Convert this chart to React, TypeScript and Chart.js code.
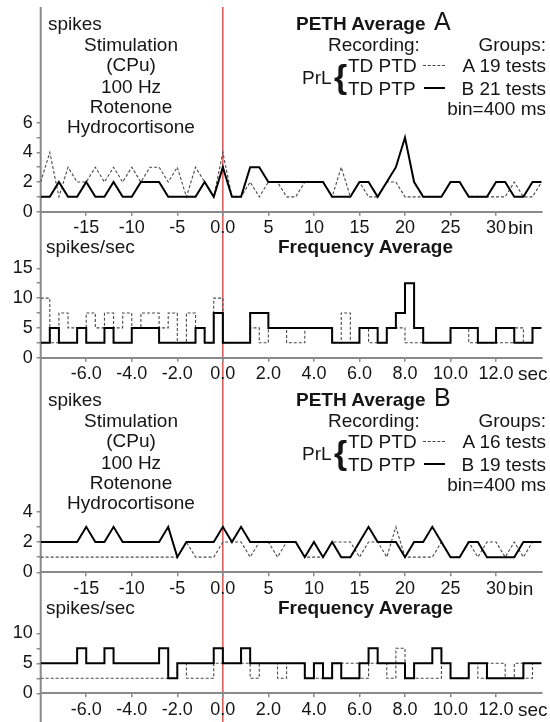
import React, { useEffect, useRef } from 'react';
import { Chart, registerables } from 'chart.js';

Chart.register(...registerables);

// ---------- data ----------
const BIN_SEC = 0.4;

// PETH points (bin index)
const PETH_BINS = [
  -20, -19, -18, -17, -16, -15, -14, -13, -12, -11,
  -10, -9, -8, -7, -6, -5, -4, -3, -2, -1,
  0, 1, 2, 3, 4, 5, 6, 7, 8, 9,
  10, 11, 12, 13, 14, 15, 16, 17, 18, 19,
  20, 21, 22, 23, 24, 25, 26, 27, 28, 29,
  30, 31, 32, 33, 34, 35,
];

// frequency bins (left edge, bin index)
const FREQ_BINS = [
  -20, -19, -18, -17, -16, -15, -14, -13, -12, -11,
  -10, -9, -8, -7, -6, -5, -4, -3, -2, -1,
  0, 1, 2, 3, 4, 5, 6, 7, 8, 9,
  10, 11, 12, 13, 14, 15, 16, 17, 18, 19,
  20, 21, 22, 23, 24, 25, 26, 27, 28, 29,
  30, 31, 32, 33, 34,
];

// Figure A
const A_PETH_B = [
  1, 1, 2, 1, 1, 2, 1, 1, 2, 1,
  1, 2, 2, 2, 1, 1, 1, 1, 2, 1,
  3, 1, 1, 3, 3, 2, 2, 2, 2, 2,
  2, 2, 1, 1, 1, 2, 2, 1, 2, 3,
  5, 2, 1, 1, 1, 2, 2, 1, 1, 1,
  2, 2, 1, 1, 2, 2,
];
const A_PETH_A = [
  2, 4, 1, 3, 2, 2, 3, 2, 3, 2,
  3, 2, 3, 3, 2, 3, 1, 3, 2, 1,
  4, 1, 1, 2, 1, 2, 2, 1, 1, 2,
  2, 2, 1, 3, 1, 2, 1, 1, 2, 2,
  1, 1, 1, 1, 1, 2, 2, 1, 1, 1,
  1, 1, 2, 1, 1, 2,
];
const A_FREQ_B = [
  2.5, 5, 2.5, 2.5, 5, 2.5, 2.5, 5, 2.5, 2.5,
  5, 5, 5, 2.5, 2.5, 2.5, 2.5, 5, 2.5, 7.5,
  2.5, 2.5, 2.5, 7.5, 7.5, 5, 5, 5, 5, 5,
  5, 5, 2.5, 2.5, 2.5, 5, 5, 2.5, 5, 7.5,
  12.5, 5, 2.5, 2.5, 2.5, 5, 5, 5, 2.5, 2.5,
  5, 5, 2.5, 2.5, 5,
];
const A_FREQ_A = [
  10, 2.5, 7.5, 5, 5, 7.5, 5, 7.5, 5, 7.5,
  5, 7.5, 7.5, 5, 7.5, 2.5, 7.5, 5, 2.5, 10,
  2.5, 2.5, 2.5, 5, 2.5, 5, 5, 2.5, 2.5, 5,
  5, 5, 2.5, 7.5, 2.5, 5, 2.5, 2.5, 5, 5,
  2.5, 2.5, 2.5, 2.5, 2.5, 5, 5, 2.5, 2.5, 2.5,
  2.5, 2.5, 5, 2.5, 5,
];

// Figure B
const B_PETH_B = [
  2, 2, 2, 2, 2, 3, 2, 2, 3, 2,
  2, 2, 2, 2, 3, 1, 2, 2, 2, 2,
  3, 2, 3, 2, 2, 2, 2, 2, 2, 1,
  2, 1, 2, 1, 1, 2, 3, 2, 2, 2,
  1, 2, 2, 3, 2, 1, 1, 2, 2, 1,
  1, 1, 1, 2, 2, 2,
];
const B_PETH_A = [
  1, 1, 1, 1, 1, 1, 1, 1, 1, 1,
  1, 1, 1, 1, 1, 1, 2, 1, 1, 1,
  2, 2, 2, 1, 2, 2, 1, 2, 2, 1,
  1, 1, 2, 2, 2, 1, 2, 2, 1, 3,
  1, 1, 1, 1, 2, 1, 1, 2, 1, 2,
  2, 1, 2, 1, 2, 2,
];
const B_FREQ_B = [
  5, 5, 5, 5, 7.5, 5, 5, 7.5, 5, 5,
  5, 5, 5, 7.5, 2.5, 5, 5, 5, 5, 7.5,
  5, 5, 7.5, 5, 5, 5, 5, 5, 5, 2.5,
  5, 2.5, 5, 2.5, 2.5, 5, 7.5, 5, 5, 5,
  2.5, 5, 5, 7.5, 5, 2.5, 2.5, 5, 5, 2.5,
  2.5, 2.5, 2.5, 5, 5,
];
const B_FREQ_A = [
  2.5, 2.5, 2.5, 2.5, 2.5, 2.5, 2.5, 2.5, 2.5, 2.5,
  2.5, 2.5, 2.5, 2.5, 2.5, 5, 2.5, 2.5, 2.5, 5,
  5, 5, 5, 2.5, 5, 5, 2.5, 5, 5, 2.5,
  2.5, 2.5, 5, 5, 5, 2.5, 5, 5, 2.5, 7.5,
  2.5, 2.5, 2.5, 2.5, 5, 2.5, 2.5, 5, 2.5, 5,
  5, 2.5, 5, 2.5, 5,
];

// ---------- style ----------
const FONT = "'Liberation Sans', Arial, Helvetica, sans-serif";
const AXIS = '#8a8a8a';
const RED = 'rgb(222, 72, 72)';
const TXT = '#151515';

const framePlugin = {
  id: 'frame',
  beforeDraw(chart: any) {
    const { ctx, chartArea, scales } = chart;
    if (!chartArea || !scales.x) return;
    const h = chart.height;
    ctx.save();
    ctx.setLineDash([]);
    ctx.strokeStyle = AXIS;
    ctx.lineWidth = 2;
    ctx.beginPath();
    ctx.moveTo(chartArea.left, 0);
    ctx.lineTo(chartArea.left, h);
    ctx.stroke();
    const x0 = scales.x.getPixelForValue(0);
    ctx.strokeStyle = RED;
    ctx.lineWidth = 1.4;
    ctx.beginPath();
    ctx.moveTo(x0, 0);
    ctx.lineTo(x0, h);
    ctx.stroke();
    ctx.restore();
  },
};

type PanelDef = {
  top: number;
  height: number;
  padTop: number;
  xAxisH: number;
  kind: 'peth' | 'freq';
  yMax: number;
  yStep: number;
  yLabelEvery: number;
  solid: number[];
  dashed: number[];
};

function pethPoints(vals: number[]) {
  return PETH_BINS.map((b, i) => ({ x: b, y: vals[i] }));
}
function freqPoints(vals: number[]) {
  const pts = FREQ_BINS.map((k, i) => ({ x: Math.round(k * BIN_SEC * 10) / 10, y: vals[i] }));
  const lastK = FREQ_BINS[FREQ_BINS.length - 1] + 1;
  pts.push({ x: Math.round(lastK * BIN_SEC * 10) / 10, y: vals[vals.length - 1] });
  return pts;
}

function buildConfig(p: PanelDef): any {
  const isFreq = p.kind === 'freq';
  const lo = Math.round((isFreq ? PETH_BINS[0] * BIN_SEC : PETH_BINS[0]) * 10) / 10;
  const hi = Math.round((isFreq ? PETH_BINS[PETH_BINS.length - 1] * BIN_SEC : PETH_BINS[PETH_BINS.length - 1]) * 10) / 10;
  const tickFont = { family: FONT, size: 18 };
  return {
    type: 'line',
    data: {
      datasets: [
        {
          data: isFreq ? freqPoints(p.solid) : pethPoints(p.solid),
          borderColor: '#000',
          borderWidth: 2,
          pointRadius: 0,
          fill: false,
          tension: 0,
          stepped: isFreq ? 'before' : false,
        },
        {
          data: isFreq ? freqPoints(p.dashed) : pethPoints(p.dashed),
          borderColor: '#4a4a4a',
          borderWidth: 1.1,
          borderDash: [3, 2],
          pointRadius: 0,
          fill: false,
          tension: 0,
          stepped: isFreq ? 'before' : false,
        },
      ],
    },
    options: {
      animation: false,
      responsive: false,
      events: [],
      layout: { padding: { top: p.padTop, left: 0, right: 8.4, bottom: 0 } },
      plugins: {
        legend: { display: false },
        tooltip: { enabled: false },
        title: { display: false },
      },
      scales: {
        x: {
          type: 'linear',
          min: lo,
          max: hi,
          afterFit: (s: any) => {
            s.height = p.xAxisH;
          },
          ticks: {
            stepSize: isFreq ? 2 : 5,
            autoSkip: false,
            maxRotation: 0,
            padding: 2,
            color: TXT,
            font: tickFont,
            callback: (v: number) => {
              if (Math.abs(v - lo) < 1e-6 || Math.abs(v - hi) < 1e-6) return null;
              if (isFreq) return v.toFixed(1);
              return v === 0 ? '0.0' : String(v);
            },
          },
          grid: {
            drawOnChartArea: false,
            drawTicks: true,
            tickLength: 4,
            color: AXIS,
            lineWidth: 1.5,
          },
          border: { display: true, color: AXIS, width: 2 },
        },
        y: {
          min: 0,
          max: p.yMax,
          afterFit: (s: any) => {
            s.width = 40.7;
          },
          ticks: {
            stepSize: p.yStep,
            autoSkip: false,
            padding: 4,
            color: TXT,
            font: tickFont,
            callback: (v: number) =>
              Math.abs(v / p.yLabelEvery - Math.round(v / p.yLabelEvery)) < 1e-6 ? String(v) : '',
          },
          grid: {
            drawOnChartArea: false,
            drawTicks: true,
            tickLength: 4,
            color: AXIS,
            lineWidth: 1.5,
          },
          border: { display: false },
        },
      },
    },
    plugins: [framePlugin],
  };
}

const PANELS: PanelDef[] = [
  { top: 7, height: 231, padTop: 115.7, xAxisH: 26.3, kind: 'peth', yMax: 6, yStep: 1, yLabelEvery: 2, solid: A_PETH_B, dashed: A_PETH_A },
  { top: 238, height: 147, padTop: 30.3, xAxisH: 27.3, kind: 'freq', yMax: 15, yStep: 2.5, yLabelEvery: 5, solid: A_FREQ_B, dashed: A_FREQ_A },
  { top: 385, height: 215, padTop: 126.7, xAxisH: 27.7, kind: 'peth', yMax: 4, yStep: 1, yLabelEvery: 2, solid: B_PETH_B, dashed: B_PETH_A },
  { top: 600, height: 122, padTop: 33.3, xAxisH: 28.7, kind: 'freq', yMax: 10, yStep: 2.5, yLabelEvery: 5, solid: B_FREQ_B, dashed: B_FREQ_A },
];

function ChartPanel({ p }: { p: PanelDef }) {
  const ref = useRef<HTMLCanvasElement | null>(null);
  useEffect(() => {
    if (!ref.current) return;
    const chart = new Chart(ref.current, buildConfig(p));
    return () => chart.destroy();
  }, [p]);
  return (
    <canvas
      ref={ref}
      width={550}
      height={p.height}
      style={{ position: 'absolute', left: 0, top: p.top, width: 550, height: p.height }}
    />
  );
}

type TP = { x: number; y: number; s?: number; b?: boolean; a?: 'l' | 'c' | 'r'; children: React.ReactNode };
function T({ x, y, s = 19, b = false, a = 'l', children }: TP) {
  const tx = a === 'l' ? '0' : a === 'c' ? '-50%' : '-100%';
  return (
    <div
      style={{
        position: 'absolute',
        left: x,
        top: y,
        transform: `translate(${tx}, -50%)`,
        fontSize: s,
        fontWeight: b ? 'bold' : 'normal',
        lineHeight: 1,
        whiteSpace: 'nowrap',
        fontFamily: FONT,
        color: TXT,
      }}
    >
      {children}
    </div>
  );
}

function Header({ dy, letter, nA, nB }: { dy: number; letter: string; nA: string; nB: string }) {
  return (
    <>
      <T x={48} y={23 + dy}>spikes</T>
      <T x={131} y={43.5 + dy} a="c">Stimulation</T>
      <T x={131} y={64 + dy} a="c">(CPu)</T>
      <T x={131} y={85.5 + dy} a="c">100 Hz</T>
      <T x={131} y={106 + dy} a="c">Rotenone</T>
      <T x={131} y={126 + dy} a="c">Hydrocortisone</T>

      <T x={296} y={23 + dy} b>PETH Average</T>
      <T x={434} y={21 + dy} s={25}>{letter}</T>
      <T x={328} y={43.5 + dy}>Recording:</T>
      <T x={546} y={43.5 + dy} a="r">Groups:</T>
      <T x={302} y={77 + dy}>PrL</T>
      <T x={334} y={76 + dy} s={34} b>{'{'}</T>
      <T x={348} y={65 + dy}>TD PTD</T>
      <T x={348} y={87.5 + dy}>TD PTP</T>
      <div style={{ position: 'absolute', left: 423, top: 65 + dy, width: 22, borderTop: '1px dashed #444' }} />
      <div style={{ position: 'absolute', left: 424, top: 86.5 + dy, width: 21, height: 2, background: '#000' }} />
      <T x={546} y={65 + dy} a="r">{nA}</T>
      <T x={546} y={87.5 + dy} a="r">{nB}</T>
      <T x={546} y={108 + dy} a="r">bin=400 ms</T>
    </>
  );
}

export default function App() {
  return (
    <div style={{ position: 'absolute', left: 0, top: 0, width: 550, height: 722, background: '#fff', overflow: 'hidden' }}>
      {PANELS.map((p, i) => (
        <ChartPanel key={i} p={p} />
      ))}
      <Header dy={0} letter="A" nA="A 19 tests" nB="B 21 tests" />
      <Header dy={376} letter="B" nA="A 16 tests" nB="B 19 tests" />

      <T x={508} y={227}>bin</T>
      <T x={46} y={245.5}>spikes/sec</T>
      <T x={278} y={245.5} b>Frequency Average</T>
      <T x={518} y={373}>sec</T>

      <T x={508} y={587.5}>bin</T>
      <T x={46} y={606.5}>spikes/sec</T>
      <T x={278} y={606.5} b>Frequency Average</T>
      <T x={518} y={708.5}>sec</T>
    </div>
  );
}
